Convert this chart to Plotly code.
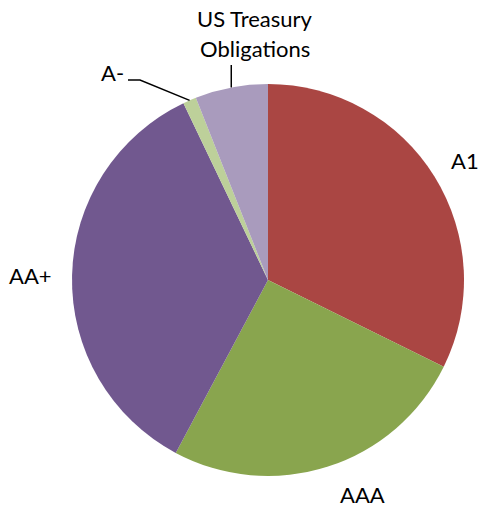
import numpy as np
import plotly.graph_objects as go

labels = ['A1', 'AAA', 'AA+', 'A-', 'US Treasury Obligations']
values = [32.3, 25.5, 35.1, 1.1, 6.0]
colors = ['#AA4643', '#89A54E', '#71588F', '#BDD09A', '#A99BBD']

W, H = 485, 511
cx, cy, r = 268, 280, 196  # pie centre / radius in px (from top-left)


def px(x, y):
    return x / W, 1 - y / H


x0, y0 = px(cx - r, cy + r)
x1, y1 = px(cx + r, cy - r)
fig = go.Figure(go.Pie(
    labels=labels, values=values, sort=False, direction='clockwise', rotation=0,
    marker=dict(colors=colors, line=dict(width=0)),
    textinfo='none', hoverinfo='label+percent', showlegend=False,
    domain=dict(x=[x0, x1], y=[y0, y1]),
))

font = dict(family='Lato, Open Sans, sans-serif', size=22, color='#000000')
label_pos = {
    'A1': (465, 161),
    'AAA': (362, 494),
    'AA+': (31, 275),
    'A-': (112, 73),
}
for name, (x, y) in label_pos.items():
    ax, ay = px(x, y)
    fig.add_annotation(x=ax, y=ay, xref='paper', yref='paper', text=name,
                       xanchor='center', yanchor='middle', showarrow=False, font=font)
for line, y in [('US Treasury', 18), ('Obligations', 49)]:
    ax, ay = px(255, y)
    fig.add_annotation(x=ax, y=ay, xref='paper', yref='paper', text=line,
                       xanchor='center', yanchor='middle', showarrow=False, font=font)

# leader lines to the middle of the small slices
frac = np.cumsum([0] + values) / sum(values)
mid = (frac[:-1] + frac[1:]) / 2 * 2 * np.pi


def edge(i):
    return cx + r * np.sin(mid[i]), cy - r * np.cos(mid[i])


ex, ey = edge(3)
pts = [(128, 80), (140, 80), (ex, ey)]
path = 'M ' + ' L '.join('%f,%f' % px(x, y) for x, y in pts)
fig.add_shape(type='path', path=path, xref='paper', yref='paper',
              line=dict(color='black', width=1.5))
ex, ey = edge(4)
lx0, ly0 = px(ex, 65)
lx1, ly1 = px(ex, ey)
fig.add_shape(type='line', x0=lx0, y0=ly0, x1=lx1, y1=ly1, xref='paper', yref='paper',
              line=dict(color='black', width=1.5))

fig.update_layout(width=W, height=H, margin=dict(l=0, r=0, t=0, b=0),
                  paper_bgcolor='white', plot_bgcolor='white')
fig.write_html('out.html', config={'displayModeBar': False},
               post_script="document.body.style.margin='0';")
